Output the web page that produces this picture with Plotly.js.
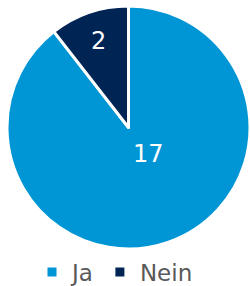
<!DOCTYPE html>
<html><head><meta charset="utf-8">
<script src="https://cdn.plot.ly/plotly-3.0.1.min.js"></script>
<style>html,body{margin:0;padding:0;background:#fff;}#chart{width:250px;height:286px;}</style>
</head><body><div id="chart"></div>
<script>
const categories = ["Ja", "Nein"];
const values = [17, 2];
const colors = ["#0096D6", "#002454"];

Plotly.newPlot("chart", [{
  type: "pie",
  labels: categories,
  values: values,
  sort: false,
  direction: "clockwise",
  rotation: 0,
  marker: {colors: colors, line: {color: "#ffffff", width: 3}},
  texttemplate: ["%{value}<br>\u00a0<br>\u00a0", "%{value}"],
  textposition: "inside",
  insidetextorientation: "horizontal",
  textfont: {family: "DejaVu Sans", size: 24, color: "#ffffff"},
  hoverinfo: "none"
}], {
  width: 250, height: 286,
  margin: {l: 7, r: 0, t: 5, b: 36, autoexpand: false},
  paper_bgcolor: "#ffffff",
  showlegend: true,
  legend: {orientation: "h", x: 0.46, xanchor: "center", xref: "container",
    y: -0.002, yanchor: "top", yref: "paper", bgcolor: "rgba(0,0,0,0)",
    font: {family: "DejaVu Sans", size: 23, color: "#595959"}, itemwidth: 30}
}, {staticPlot: true});
</script></body></html>
